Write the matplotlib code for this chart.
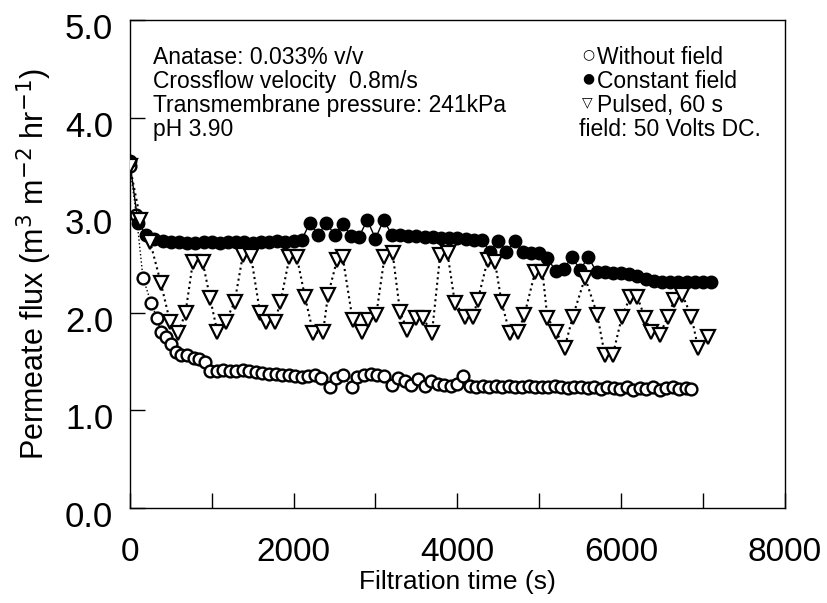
import matplotlib
matplotlib.use("Agg")
import matplotlib.pyplot as plt
import matplotlib.transforms as mtransforms
from matplotlib.ticker import MultipleLocator

# ---- data ----
t_const = [0, 100, 200, 300, 400, 500, 600, 700, 800, 900,
           1000, 1100, 1200, 1300, 1400, 1500, 1600, 1700, 1800, 1900,
           2000, 2100, 2200, 2300, 2400, 2500, 2600, 2700, 2800, 2900,
           3000, 3100, 3200, 3300, 3400, 3500, 3600, 3700, 3800, 3900,
           4000, 4100, 4200, 4300, 4400, 4500, 4600, 4700, 4800, 4900,
           5000, 5100, 5200, 5300, 5400, 5500, 5600, 5700, 5800, 5900,
           6000, 6100, 6200, 6300, 6400, 6500, 6600, 6700, 6800, 6900,
           7000, 7100]
flux_const = [3.55, 2.92, 2.80, 2.76, 2.74, 2.72, 2.72, 2.71, 2.71, 2.72,
              2.72, 2.71, 2.72, 2.73, 2.72, 2.71, 2.72, 2.73, 2.74, 2.73,
              2.74, 2.75, 2.92, 2.80, 2.92, 2.80, 2.91, 2.79, 2.78, 2.95,
              2.76, 2.95, 2.80, 2.80, 2.79, 2.79, 2.78, 2.78, 2.77, 2.77,
              2.77, 2.76, 2.75, 2.75, 2.62, 2.74, 2.62, 2.74, 2.62, 2.61,
              2.61, 2.56, 2.43, 2.45, 2.57, 2.44, 2.57, 2.42, 2.42, 2.41,
              2.41, 2.40, 2.38, 2.35, 2.33, 2.32, 2.32, 2.32, 2.32, 2.32,
              2.32, 2.32]

t_without = [0, 80, 160, 260, 330, 380, 440, 500, 560, 620,
             700, 780, 850, 920, 980, 1060, 1140, 1220, 1300, 1380,
             1460, 1540, 1620, 1700, 1780, 1860, 1940, 2020, 2100, 2180,
             2260, 2340, 2440, 2520, 2600, 2710, 2780, 2860, 2940, 3020,
             3100, 3200, 3280, 3360, 3440, 3520, 3600, 3680, 3760, 3840,
             3920, 4000, 4070, 4150, 4230, 4310, 4390, 4470, 4550, 4630,
             4710, 4790, 4870, 4950, 5030, 5110, 5190, 5270, 5350, 5430,
             5510, 5590, 5670, 5750, 5830, 5910, 5990, 6070, 6150, 6230,
             6310, 6390, 6470, 6550, 6630, 6710, 6790, 6850]
flux_without = [3.50, 3.00, 2.36, 2.10, 1.95, 1.80, 1.75, 1.68, 1.60, 1.57,
                1.57, 1.54, 1.53, 1.50, 1.40, 1.40, 1.41, 1.40, 1.40, 1.41,
                1.40, 1.39, 1.38, 1.37, 1.37, 1.36, 1.36, 1.35, 1.34, 1.35,
                1.36, 1.33, 1.24, 1.33, 1.36, 1.24, 1.34, 1.36, 1.37, 1.36,
                1.35, 1.26, 1.33, 1.30, 1.26, 1.32, 1.25, 1.30, 1.27, 1.26,
                1.25, 1.27, 1.35, 1.25, 1.24, 1.25, 1.24, 1.25, 1.24, 1.25,
                1.24, 1.24, 1.25, 1.24, 1.24, 1.24, 1.25, 1.24, 1.23, 1.24,
                1.24, 1.23, 1.24, 1.22, 1.24, 1.23, 1.22, 1.24, 1.21, 1.23,
                1.22, 1.24, 1.21, 1.23, 1.24, 1.22, 1.23, 1.22]

t_pulsed = [0, 130, 250, 380, 490, 590, 680, 770, 890, 980,
            1070, 1170, 1280, 1380, 1480, 1590, 1660, 1770, 1840, 1950,
            2040, 2140, 2240, 2360, 2420, 2530, 2600, 2720, 2830, 2910,
            3010, 3110, 3210, 3300, 3390, 3500, 3580, 3690, 3790, 3880,
            3970, 4090, 4190, 4250, 4370, 4460, 4540, 4640, 4740, 4820,
            4950, 5040, 5100, 5210, 5310, 5410, 5560, 5710, 5800, 5900,
            6010, 6110, 6200, 6290, 6370, 6470, 6570, 6650, 6750, 6860,
            6940, 7060]
flux_pulsed = [3.50, 2.95, 2.72, 2.30, 1.91, 1.79, 2.00, 2.52, 2.52, 2.15,
               1.80, 1.91, 2.11, 2.59, 2.58, 2.00, 1.91, 1.91, 2.11, 2.57,
               2.57, 2.16, 1.79, 1.80, 2.18, 2.54, 2.57, 1.93, 1.80, 1.93,
               1.98, 2.57, 2.61, 2.01, 1.82, 1.95, 1.95, 1.79, 2.59, 2.61,
               2.10, 1.96, 1.96, 2.13, 2.54, 2.52, 2.11, 1.79, 1.80, 1.98,
               2.42, 2.42, 1.95, 1.80, 1.64, 1.96, 2.36, 1.98, 1.57, 1.57,
               1.96, 2.16, 2.16, 1.95, 1.80, 1.77, 1.96, 2.13, 2.18, 1.96,
               1.64, 1.75]

x_ticks = [0, 2000, 4000, 6000, 8000]
y_ticks = [0.0, 1.0, 2.0, 3.0, 4.0, 5.0]

info_lines = ["Anatase: 0.033% v/v",
              "Crossflow velocity  0.8m/s",
              "Transmembrane pressure: 241kPa",
              "pH 3.90"]
legend_labels = ["Without field", "Constant field", "Pulsed, 60 s"]
legend_symbols = ["\u25cb", "\u25cf", "\u25bd"]
legend_extra = "field: 50 Volts DC."

# ---- figure ----
FONT = ["Liberation Sans", "DejaVu Sans"]
plt.rcParams["font.family"] = FONT

fig = plt.figure(figsize=(8.27, 6.03), dpi=100)
ax = fig.add_axes([0.157, 0.1575, 0.792, 0.8095])

ax.plot(t_without, flux_without, linestyle=":", color="black", linewidth=1.0,
        marker="o", markersize=8.5, markerfacecolor="white",
        markeredgecolor="black", markeredgewidth=1.7, zorder=2)
ax.plot(t_const, flux_const, linestyle="-", color="black", linewidth=1.0,
        marker="o", markersize=9, markerfacecolor="black",
        markeredgecolor="black", zorder=3)
ax.plot(t_pulsed, flux_pulsed, linestyle=":", color="black", linewidth=1.5,
        marker="v", markersize=9.5, markerfacecolor="white",
        markeredgecolor="black", markeredgewidth=1.6, zorder=4)

ax.set_xlim(0, 8000)
ax.set_ylim(0, 5)
ax.set_xticks(x_ticks)
ax.set_xticklabels([str(v) for v in x_ticks])
ax.xaxis.set_minor_locator(MultipleLocator(1000))
ax.set_yticks(y_ticks)
ax.set_yticklabels([f"{v:.1f}" for v in y_ticks])

ax.tick_params(axis="both", which="both", direction="in", length=11,
               width=1.0, top=False, right=False)
ax.tick_params(axis="x", which="major", labelsize=24, pad=21)
ax.tick_params(axis="y", which="major", labelsize=25, pad=12)
offset = mtransforms.ScaledTranslation(0, -6 / 100, fig.dpi_scale_trans)
for lbl in ax.get_yticklabels():
    lbl.set_transform(lbl.get_transform() + offset)
for s in ax.spines.values():
    s.set_linewidth(1.0)

ax.set_xlabel("Filtration time (s)", fontsize=19, labelpad=1)
ax.set_ylabel("Permeate flux (m$^3$ m$^{-2}$ hr$^{-1}$)", fontsize=22,
              labelpad=8)

# info text block
for i, line in enumerate(info_lines):
    ax.text(0.035, 0.922 - i * 0.049, line, transform=ax.transAxes,
            fontsize=16.5, va="center", ha="left")

# legend-like text block
for i, (sym, lab) in enumerate(zip(legend_symbols, legend_labels)):
    y = 0.922 - i * 0.049
    ax.text(0.69, y + 0.008, sym, transform=ax.transAxes, fontsize=10,
            va="center", ha="left", family=["DejaVu Sans"])
    ax.text(0.714, y, lab, transform=ax.transAxes, fontsize=16.5,
            va="center", ha="left")
ax.text(0.685, 0.922 - 3 * 0.049, legend_extra, transform=ax.transAxes,
        fontsize=16.5, va="center", ha="left")

fig.savefig("out.png", dpi=100)
